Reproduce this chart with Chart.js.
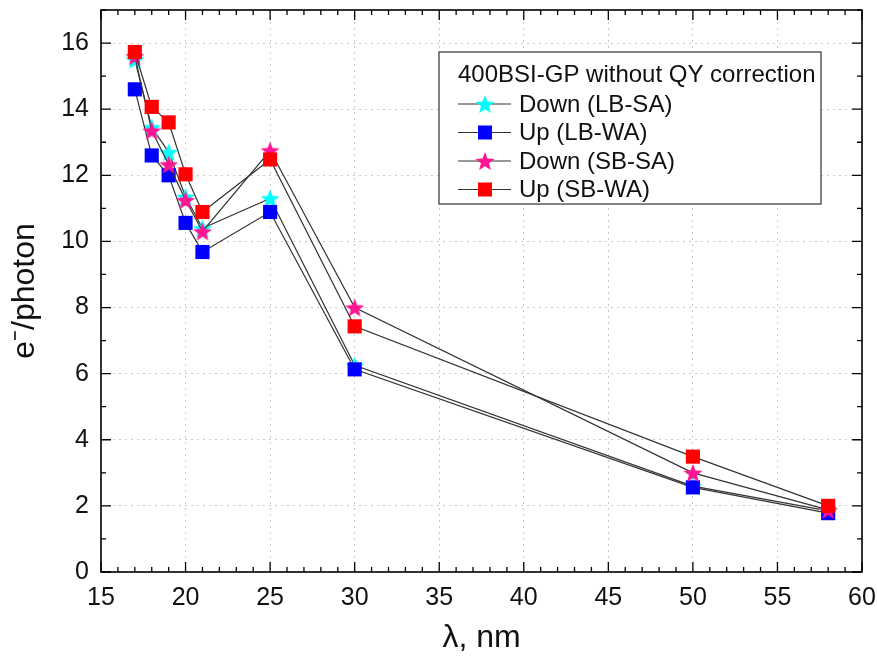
<!DOCTYPE html>
<html>
<head>
<meta charset="utf-8">
<script src="https://cdn.jsdelivr.net/npm/chart.js@4.4.0/dist/chart.umd.min.js"></script>
<style>
  body { margin: 0; background: #fff; }
  #wrap { width: 877px; height: 661px; }
</style>
</head>
<body>
<div id="wrap"><canvas id="myChart" width="877" height="661"></canvas></div>
<script>
const wavelengths = [17, 18, 19, 20, 21, 25, 30, 50, 58];
const downLBSA = [15.5, 13.45, 12.7, 11.35, 10.4, 11.3, 6.25, 2.6, 1.85];
const upLBWA = [14.6, 12.6, 12.0, 10.56, 9.68, 10.89, 6.13, 2.56, 1.78];
const downSBSA = [15.6, 13.35, 12.33, 11.25, 10.3, 12.75, 8.0, 3.0, 1.88];
const upSBWA = [15.73, 14.07, 13.6, 12.03, 10.89, 12.48, 7.43, 3.49, 2.0];
const seriesLabels = ['Down (LB-SA)', 'Up (LB-WA)', 'Down (SB-SA)', 'Up (SB-WA)'];
const legendTitle = '400BSI-GP without QY correction';
const yTicks = [0, 2, 4, 6, 8, 10, 12, 14, 16];

const FONT = '"Liberation Sans", Arial, sans-serif';

function starImage(color, r) {
  const c = document.createElement('canvas');
  const s = Math.ceil(r * 2 + 2);
  c.width = s; c.height = s;
  const g = c.getContext('2d');
  g.fillStyle = color;
  g.beginPath();
  for (let i = 0; i < 10; i++) {
    const rad = i % 2 === 0 ? r : r * 0.42;
    const a = -Math.PI / 2 + i * Math.PI / 5;
    const px = s / 2 + rad * Math.cos(a);
    const py = s / 2 + 1 + rad * Math.sin(a);
    if (i === 0) g.moveTo(px, py); else g.lineTo(px, py);
  }
  g.closePath();
  g.fill();
  return c;
}

const cyanStar = starImage('#00ffff', 10);
const pinkStar = starImage('#ff1493', 10);

function toPoints(ys) {
  return wavelengths.map((x, i) => ({ x: x, y: ys[i] }));
}

function makeSet(label, ys, color, style, order) {
  return {
    label: label,
    data: toPoints(ys),
    showLine: true,
    borderColor: '#333',
    borderWidth: 1.2,
    pointStyle: style,
    pointRadius: 10,
    pointBackgroundColor: color,
    pointBorderColor: color,
    pointBorderWidth: 0,
    markerColor: color,
    order: order
  };
}

// inward ticks on all four sides plus the frame
const frameTicks = {
  id: 'frameTicks',
  afterDatasetsDraw(chart) {
    const { ctx, chartArea: a, scales } = chart;
    ctx.save();
    ctx.strokeStyle = '#000';
    ctx.lineWidth = 1.3;
    for (let v = 15; v <= 60; v += 1) {
      const px = scales.x.getPixelForValue(v);
      const len = v % 5 === 0 ? 10 : 5;
      ctx.beginPath();
      ctx.moveTo(px, a.bottom); ctx.lineTo(px, a.bottom - len);
      ctx.moveTo(px, a.top); ctx.lineTo(px, a.top + len);
      ctx.stroke();
    }
    for (let v = 0; v <= 17; v += 1) {
      const py = scales.y.getPixelForValue(v);
      const len = v % 2 === 0 ? 10 : 5;
      ctx.beginPath();
      ctx.moveTo(a.left, py); ctx.lineTo(a.left + len, py);
      ctx.moveTo(a.right, py); ctx.lineTo(a.right - len, py);
      ctx.stroke();
    }
    ctx.lineWidth = 1.6;
    ctx.strokeRect(a.left, a.top, a.right - a.left, a.bottom - a.top);
    ctx.restore();
  }
};

const boxLegend = {
  id: 'boxLegend',
  afterDraw(chart) {
    const { ctx, chartArea: a } = chart;
    const left = a.right - 423, top = a.top + 42, w = 382, h = 152;
    ctx.save();
    ctx.fillStyle = '#fff';
    ctx.fillRect(left, top, w, h);
    ctx.strokeStyle = '#333';
    ctx.lineWidth = 1.2;
    ctx.strokeRect(left, top, w, h);
    ctx.fillStyle = '#111';
    ctx.font = '24px ' + FONT;
    ctx.textBaseline = 'middle';
    ctx.fillText(legendTitle, left + 19, top + 23);
    chart.data.datasets.forEach((ds, i) => {
      const cy = top + 52 + i * 28.5;
      ctx.strokeStyle = '#333';
      ctx.lineWidth = 1.2;
      ctx.beginPath();
      ctx.moveTo(left + 19, cy); ctx.lineTo(left + 72, cy);
      ctx.stroke();
      const mx = left + 46;
      if (ds.pointStyle === 'rect') {
        ctx.fillStyle = ds.markerColor;
        ctx.fillRect(mx - 7, cy - 7, 14, 14);
      } else {
        const img = ds.pointStyle;
        ctx.drawImage(img, mx - img.width / 2, cy - img.height / 2);
      }
      ctx.fillStyle = '#111';
      ctx.fillText(ds.label, left + 80, cy + 1);
    });
    ctx.restore();
  }
};

const ctx = document.getElementById('myChart').getContext('2d');

new Chart(ctx, {
  type: 'scatter',
  data: {
    datasets: [
      makeSet(seriesLabels[0], downLBSA, '#00ffff', cyanStar, 4),
      makeSet(seriesLabels[1], upLBWA, '#0000ff', 'rect', 3),
      makeSet(seriesLabels[2], downSBSA, '#ff1493', pinkStar, 2),
      makeSet(seriesLabels[3], upSBWA, '#ff0000', 'rect', 1)
    ]
  },
  options: {
    responsive: false,
    animation: false,
    layout: { padding: { top: 8, right: 15, left: 0, bottom: 0 } },
    plugins: {
      legend: { display: false },
      tooltip: { enabled: false }
    },
    scales: {
      x: {
        type: 'linear',
        min: 15,
        max: 60,
        afterFit: function(scale) {
          scale.height = 89;
          scale.paddingLeft = 0;
          scale.paddingRight = 0;
        },
        ticks: {
          stepSize: 5,
          color: '#111',
          padding: 11,
          font: { family: FONT, size: 25 }
        },
        grid: { color: '#c8c8c8', drawTicks: false, lineWidth: 1 },
        border: { display: false, dash: [2, 4] },
        title: {
          display: true,
          text: 'λ, nm',
          color: '#111',
          font: { family: FONT, size: 32 },
          padding: { top: 0, bottom: 4 }
        }
      },
      y: {
        type: 'linear',
        min: 0,
        max: 17,
        afterFit: function(scale) {
          scale.width = 101;
          scale.paddingTop = 0;
          scale.paddingBottom = 0;
        },
        afterBuildTicks: function(scale) {
          scale.ticks = yTicks.map(v => ({ value: v }));
        },
        ticks: {
          color: '#111',
          padding: 12,
          font: { family: FONT, size: 25 }
        },
        grid: { color: '#c8c8c8', drawTicks: false, lineWidth: 1 },
        border: { display: false, dash: [2, 4] },
        title: {
          display: true,
          text: 'e⁻/photon',
          color: '#111',
          font: { family: FONT, size: 32 },
          padding: { top: 6, bottom: 0 }
        }
      }
    }
  },
  plugins: [frameTicks, boxLegend]
});
</script>
</body>
</html>
